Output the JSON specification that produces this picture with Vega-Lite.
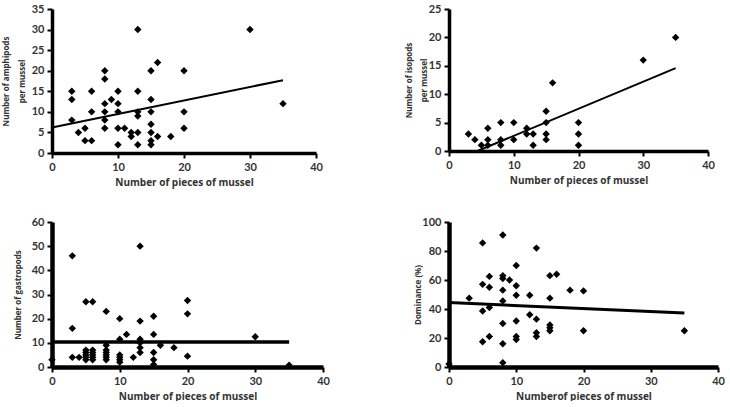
{
  "$schema": "https://vega.github.io/schema/vega-lite/v6.json",
  "background": "white",
  "padding": {"left": 2, "top": 3, "right": 0, "bottom": 0},
  "columns": 2,
  "bounds": "flush",
  "align": "each",
  "spacing": {"row": 69, "column": 126},
  "config": {
    "view": {"stroke": null},
    "font": "Lato",
    "axis": {
      "grid": false,
      "domainColor": "black",
      "domainWidth": 3.5,
      "tickColor": "black",
      "tickWidth": 2,
      "tickSize": 5,
      "labelFont": "Lato",
      "labelFontSize": 11,
      "labelFontWeight": "bold",
      "labelColor": "#333333",
      "labelPadding": 3,
      "labelOverlap": false,
      "labelFlush": false,
      "titleFont": "Open Sans",
      "titleFontSize": 10,
      "titleFontWeight": "bold",
      "titleColor": "#333333"
    },
    "axisY": {"minExtent": 20, "maxExtent": 20}
  },
  "datasets": {
    "p1": [
      {"x":3,"y":15},{"x":3,"y":13},{"x":3,"y":8},{"x":4,"y":5},{"x":5,"y":6},{"x":5,"y":3},{"x":6,"y":3},{"x":6,"y":15},{"x":6,"y":10},
      {"x":8,"y":20},{"x":8,"y":18},{"x":8,"y":12},{"x":8,"y":10},{"x":8,"y":8},{"x":8,"y":6},{"x":9,"y":13},
      {"x":10,"y":15},{"x":10,"y":12},{"x":10,"y":10},{"x":10,"y":6},{"x":10,"y":2},{"x":11,"y":6},{"x":12,"y":5},{"x":12,"y":4},
      {"x":13,"y":30},{"x":13,"y":15},{"x":13,"y":10},{"x":13,"y":9},{"x":13,"y":5},{"x":13,"y":2},
      {"x":15,"y":20},{"x":15,"y":13},{"x":15,"y":10},{"x":15,"y":7},{"x":15,"y":5},{"x":15,"y":3},{"x":15,"y":2},
      {"x":16,"y":22},{"x":16,"y":4},{"x":18,"y":4},{"x":20,"y":20},{"x":20,"y":10},{"x":20,"y":6},{"x":30,"y":30},{"x":35,"y":12}
    ],
    "l1": [{"x":0,"y":6.2},{"x":35,"y":17.7}],
    "p2": [
      {"x":3,"y":3},{"x":4,"y":2},{"x":5,"y":1},{"x":6,"y":4},{"x":6,"y":2},{"x":6,"y":1},{"x":8,"y":5},{"x":8,"y":2},{"x":8,"y":1},
      {"x":10,"y":5},{"x":10,"y":2},{"x":12,"y":4},{"x":12,"y":3},{"x":13,"y":3},{"x":13,"y":1},
      {"x":15,"y":7},{"x":15,"y":5},{"x":15,"y":3},{"x":15,"y":2},{"x":16,"y":12},{"x":20,"y":5},{"x":20,"y":3},{"x":20,"y":1},
      {"x":30,"y":16},{"x":35,"y":20}
    ],
    "l2": [{"x":4.4,"y":0},{"x":35,"y":14.6}],
    "p3": [
      {"x":0,"y":3},{"x":3,"y":46},{"x":3,"y":16},{"x":3,"y":4},{"x":4,"y":4},
      {"x":5,"y":27},{"x":5,"y":3},{"x":5,"y":4},{"x":5,"y":5},{"x":5,"y":6},{"x":5,"y":7},
      {"x":6,"y":27},{"x":6,"y":3},{"x":6,"y":4},{"x":6,"y":5},{"x":6,"y":6},{"x":6,"y":7},
      {"x":8,"y":23},{"x":8,"y":3},{"x":8,"y":4},{"x":8,"y":5},{"x":8,"y":6},{"x":8,"y":7},{"x":8,"y":9},
      {"x":10,"y":20},{"x":10,"y":11.5},{"x":10,"y":2},{"x":10,"y":3},{"x":10,"y":4},{"x":10,"y":5},
      {"x":11,"y":13.5},{"x":12,"y":4},
      {"x":13,"y":50},{"x":13,"y":19},{"x":13,"y":11.5},{"x":13,"y":10},{"x":13,"y":8},{"x":13,"y":6},
      {"x":15,"y":21},{"x":15,"y":13.5},{"x":15,"y":6},{"x":15,"y":3},{"x":15,"y":1},
      {"x":16,"y":9},{"x":18,"y":8},{"x":20,"y":27.5},{"x":20,"y":22},{"x":20,"y":4.5},{"x":30,"y":12.5},{"x":35,"y":0.7}
    ],
    "l3": [{"x":0,"y":10.3},{"x":35,"y":10.3}],
    "p4": [
      {"x":0,"y":2},{"x":3,"y":47.5},{"x":5,"y":85.6},{"x":5,"y":57},{"x":5,"y":38.6},{"x":5,"y":17.4},
      {"x":6,"y":62.5},{"x":6,"y":55},{"x":6,"y":41},{"x":6,"y":21},
      {"x":8,"y":91},{"x":8,"y":63},{"x":8,"y":61},{"x":8,"y":53},{"x":8,"y":45.6},{"x":8,"y":30},{"x":8,"y":16},{"x":8,"y":3},
      {"x":9,"y":60},{"x":10,"y":70},{"x":10,"y":56},{"x":10,"y":49.5},{"x":10,"y":31.7},{"x":10,"y":21},{"x":10,"y":19},
      {"x":12,"y":49.5},{"x":12,"y":36},{"x":13,"y":82},{"x":13,"y":33},{"x":13,"y":23.6},{"x":13,"y":21},
      {"x":15,"y":63},{"x":15,"y":47.5},{"x":15,"y":29},{"x":15,"y":27},{"x":15,"y":25},
      {"x":16,"y":64},{"x":18,"y":53},{"x":20,"y":52.5},{"x":20,"y":25},{"x":35,"y":25}
    ],
    "l4": [{"x":0,"y":44.4},{"x":35,"y":37.3}]
  },
  "concat": [
    {
      "width": 264, "height": 144,
      "encoding": {
        "x": {"field": "x", "type": "quantitative", "scale": {"domain": [0, 40]}, "axis": {"values": [0,10,20,30,40], "labelOverlap": false, "title": "Number of pieces of mussel", "titlePadding": 5}},
        "y": {"field": "y", "type": "quantitative", "scale": {"domain": [0, 35]}, "axis": {"values": [0,5,10,15,20,25,30,35], "labelOverlap": false, "title": ["Number of amphipods", "per mussel"], "titleFontSize": 8, "titleLineHeight": 16, "titlePadding": 6}}
      },
      "layer": [
        {
          "data": {"name": "p1"},
          "mark": {"type": "point", "shape": "diamond", "filled": true, "color": "black", "size": 55, "opacity": 1}
        },
        {
          "data": {"name": "l1"},
          "mark": {"type": "line", "color": "black", "strokeWidth": 2}
        },
        {
          "data": {"values": [{}]},
          "mark": {"type": "text", "align": "left", "baseline": "middle", "fontSize": 11, "font": "Lato", "color": "#222222"},
          "encoding": {"x": {"datum": 19.4, "type": "quantitative"}, "y": {"datum": 34, "type": "quantitative"}, "text": {"value": "r=0.424, P =0.001"}}
        }
      ]
    },
    {
      "width": 259, "height": 142,
      "encoding": {
        "x": {"field": "x", "type": "quantitative", "scale": {"domain": [0, 40]}, "axis": {"values": [0,10,20,30,40], "labelOverlap": false, "title": "Number of pieces of mussel", "titlePadding": 5}},
        "y": {"field": "y", "type": "quantitative", "scale": {"domain": [0, 25]}, "axis": {"values": [0,5,10,15,20,25], "labelOverlap": false, "title": ["Number of isopods", "per mussel"], "titleFontSize": 8, "titleLineHeight": 15, "titlePadding": 1}}
      },
      "layer": [
        {
          "data": {"name": "p2"},
          "mark": {"type": "point", "shape": "diamond", "filled": true, "color": "black", "size": 55, "opacity": 1}
        },
        {
          "data": {"name": "l2"},
          "mark": {"type": "line", "color": "black", "strokeWidth": 2}
        },
        {
          "data": {"values": [{}]},
          "mark": {"type": "text", "align": "left", "baseline": "middle", "fontSize": 11, "font": "Lato", "color": "#222222"},
          "encoding": {"x": {"datum": 19.3, "type": "quantitative"}, "y": {"datum": 24.3, "type": "quantitative"}, "text": {"value": "r=0.562, P =0.001"}}
        }
      ]
    },
    {
      "width": 271, "height": 145,
      "encoding": {
        "x": {"field": "x", "type": "quantitative", "scale": {"domain": [0, 40]}, "axis": {"values": [0,10,20,30,40], "labelOverlap": false, "domainWidth": 4.5, "title": "Number of pieces of mussel", "titlePadding": 5}},
        "y": {"field": "y", "type": "quantitative", "scale": {"domain": [0, 60]}, "axis": {"values": [0,10,20,30,40,50,60], "labelOverlap": false, "domainWidth": 4.5, "title": "Number of gastropods", "titleFontSize": 8, "titlePadding": 10}}
      },
      "layer": [
        {
          "data": {"name": "p3"},
          "mark": {"type": "point", "shape": "diamond", "filled": true, "color": "black", "size": 55, "opacity": 1}
        },
        {
          "data": {"name": "l3"},
          "mark": {"type": "line", "color": "black", "strokeWidth": 3.5}
        },
        {
          "data": {"values": [{}]},
          "mark": {"type": "text", "align": "left", "baseline": "middle", "fontSize": 11, "font": "Lato", "color": "#222222"},
          "encoding": {"x": {"datum": 19.3, "type": "quantitative"}, "y": {"datum": 53, "type": "quantitative"}, "text": {"value": "r=0.015, P =0.912"}}
        }
      ]
    },
    {
      "width": 269, "height": 145,
      "encoding": {
        "x": {"field": "x", "type": "quantitative", "scale": {"domain": [0, 40]}, "axis": {"values": [0,10,20,30,40], "labelOverlap": false, "domainWidth": 4.5, "title": "Numberof pieces of mussel", "titlePadding": 5}},
        "y": {"field": "y", "type": "quantitative", "scale": {"domain": [0, 100]}, "axis": {"values": [0,20,40,60,80,100], "labelOverlap": false, "domainWidth": 4.5, "title": "Dominance (%)", "titleFontSize": 8, "titlePadding": 7}}
      },
      "layer": [
        {
          "data": {"name": "p4"},
          "mark": {"type": "point", "shape": "diamond", "filled": true, "color": "black", "size": 55, "opacity": 1}
        },
        {
          "data": {"name": "l4"},
          "mark": {"type": "line", "color": "black", "strokeWidth": 3}
        },
        {
          "data": {"values": [{}]},
          "mark": {"type": "text", "align": "left", "baseline": "middle", "fontSize": 11, "font": "Lato", "color": "#222222"},
          "encoding": {"x": {"datum": 20.1, "type": "quantitative"}, "y": {"datum": 97, "type": "quantitative"}, "text": {"value": "r=-0.178, P =0.227"}}
        }
      ]
    }
  ]
}
